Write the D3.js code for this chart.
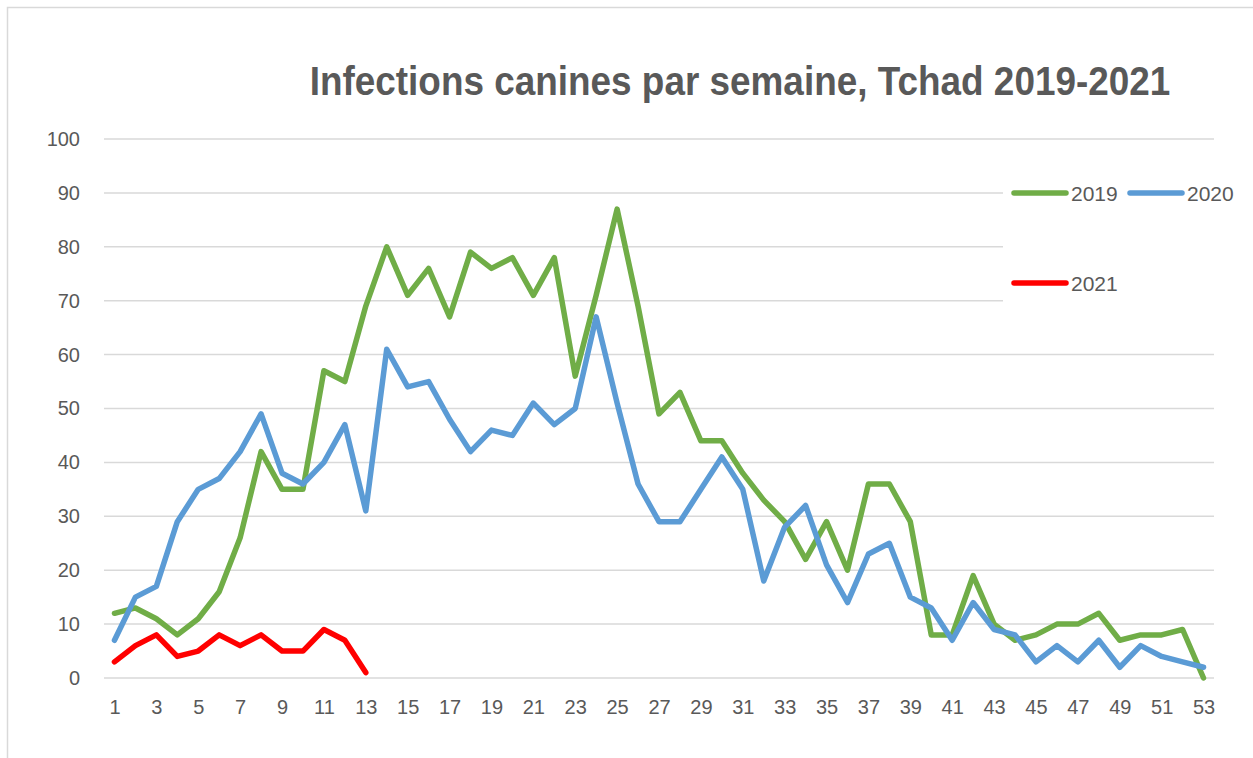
<!DOCTYPE html>
<html>
<head>
<meta charset="utf-8">
<script src="https://cdn.jsdelivr.net/npm/d3@7"></script>
<style>
  body { margin: 0; background: #fff; }
  svg { display: block; }
</style>
</head>
<body>
<div id="chart"></div>
<script>
// weekly counts
const weeks = d3.range(1, 54);
const yTicks = [0, 10, 20, 30, 40, 50, 60, 70, 80, 90, 100];

const values2019 = [12, 13, 11, 8, 11, 16, 26, 42, 35, 35, 57, 55, 69, 80, 71, 76, 67, 79, 76, 78,
  71, 78, 56, 71, 87, 69, 49, 53, 44, 44, 38, 33, 29, 22, 29, 20, 36, 36, 29, 8,
  8, 19, 10, 7, 8, 10, 10, 12, 7, 8, 8, 9, 0];
const values2020 = [7, 15, 17, 29, 35, 37, 42, 49, 38, 36, 40, 47, 31, 61, 54, 55, 48, 42, 46, 45,
  51, 47, 50, 67, 51, 36, 29, 29, 35, 41, 35, 18, 28, 32, 21, 14, 23, 25, 15, 13,
  7, 14, 9, 8, 3, 6, 3, 7, 2, 6, 4, 3, 2];
const values2021 = [3, 6, 8, 4, 5, 8, 6, 8, 5, 5, 9, 7, 1];

const series = [
  { name: "2019", color: "#70AD47", values: values2019 },
  { name: "2020", color: "#5B9BD5", values: values2020 },
  { name: "2021", color: "#FF0000", values: values2021 }
];

const width = 1253, height = 758;
const textColor = "#595959";
const gridColor = "#D9D9D9";
const labelFont = "'Liberation Sans', Arial, sans-serif";

const svg = d3.select("#chart").append("svg")
  .attr("width", width)
  .attr("height", height);

// outer chart border (only top/left visible)
svg.append("rect")
  .attr("x", 7.5).attr("y", 7.5)
  .attr("width", 1300).attr("height", 800)
  .attr("fill", "none")
  .attr("stroke", gridColor)
  .attr("stroke-width", 1.5);

const x = d3.scalePoint()
  .domain(weeks)
  .range([104, 1214])
  .padding(0.5);

const y = d3.scaleLinear()
  .domain([0, 100])
  .range([678, 139]);

// gridlines
svg.append("g")
  .selectAll("line")
  .data(yTicks)
  .join("line")
  .attr("x1", 104)
  .attr("x2", 1214)
  .attr("y1", d => y(d))
  .attr("y2", d => y(d))
  .attr("stroke", gridColor)
  .attr("stroke-width", 1.5);

// y axis labels
const yAxis = svg.append("g")
  .attr("transform", "translate(80,0)")
  .call(d3.axisLeft(y).tickValues(yTicks).tickSize(0).tickPadding(0));
yAxis.select(".domain").remove();
yAxis.selectAll("text")
  .attr("fill", textColor)
  .style("font-family", labelFont)
  .style("font-size", "20px");

// x axis labels (odd weeks)
const xAxis = svg.append("g")
  .attr("transform", "translate(0,700)")
  .call(d3.axisBottom(x).tickValues(weeks.filter(w => w % 2 === 1)).tickSize(0).tickPadding(0));
xAxis.select(".domain").remove();
xAxis.selectAll("text")
  .attr("fill", textColor)
  .style("font-family", labelFont)
  .style("font-size", "20px");

// lines
const line = d3.line()
  .x((d, i) => x(weeks[i]))
  .y(d => y(d));

svg.append("g")
  .selectAll("path")
  .data(series)
  .join("path")
  .attr("d", d => line(d.values))
  .attr("fill", "none")
  .attr("stroke", d => d.color)
  .attr("stroke-width", 5.5)
  .attr("stroke-linejoin", "round")
  .attr("stroke-linecap", "round");

// legend with white background hiding grid
const legend = svg.append("g");
legend.append("rect")
  .attr("x", 1003).attr("y", 168)
  .attr("width", 245).attr("height", 140)
  .attr("fill", "#fff");

const legendPos = [
  { lx: 1012, ly: 193 },
  { lx: 1128, ly: 193 },
  { lx: 1012, ly: 283 }
];

series.forEach((s, i) => {
  const p = legendPos[i];
  legend.append("line")
    .attr("x1", p.lx + 2).attr("x2", p.lx + 54)
    .attr("y1", p.ly).attr("y2", p.ly)
    .attr("stroke", s.color)
    .attr("stroke-width", 5.5)
    .attr("stroke-linecap", "round");
  legend.append("text")
    .attr("x", p.lx + 59)
    .attr("y", p.ly + 7.5)
    .attr("fill", textColor)
    .style("font-family", labelFont)
    .style("font-size", "21px")
    .text(s.name);
});

// title, squeezed horizontally to mimic the condensed face
svg.append("text")
  .attr("transform", "translate(740,95) scale(0.9,1)")
  .attr("text-anchor", "middle")
  .attr("fill", textColor)
  .style("font-family", labelFont)
  .style("font-weight", "bold")
  .style("font-size", "41px")
  .text("Infections canines par semaine, Tchad 2019-2021");
</script>
</body>
</html>
